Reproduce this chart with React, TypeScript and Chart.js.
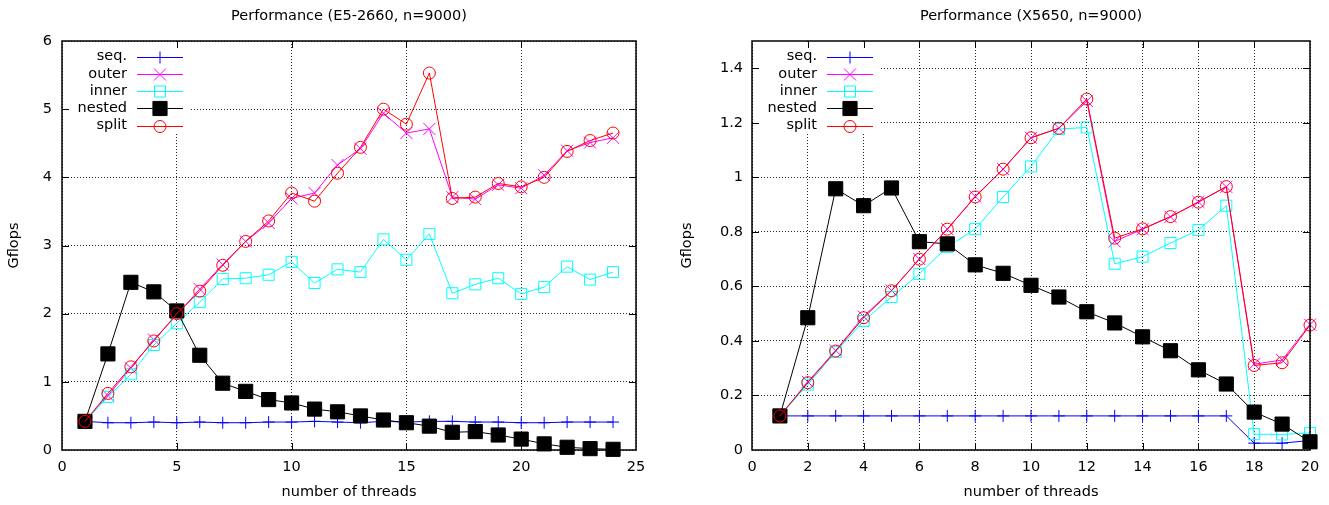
import React, { useEffect, useRef } from 'react';
import { Chart, registerables } from 'chart.js';

Chart.register(...registerables);

// ---------- data ----------
const seriesNames = ['seq.', 'outer', 'inner', 'nested', 'split'];

const threadsE5 = [1, 2, 3, 4, 5, 6, 7, 8, 9, 10, 11, 12, 13, 14, 15, 16, 17, 18, 19, 20, 21, 22, 23, 24];
const seqE5 = [0.42, 0.40, 0.40, 0.41, 0.40, 0.41, 0.40, 0.40, 0.41, 0.41, 0.42, 0.41, 0.40, 0.42, 0.41, 0.42, 0.42, 0.41, 0.41, 0.40, 0.40, 0.41, 0.41, 0.41];
const outerE5 = [0.42, 0.80, 1.20, 1.62, 1.98, 2.36, 2.72, 3.06, 3.33, 3.69, 3.77, 4.18, 4.42, 4.94, 4.65, 4.71, 3.71, 3.68, 3.89, 3.84, 4.03, 4.39, 4.51, 4.58];
const innerE5 = [0.42, 0.78, 1.11, 1.54, 1.86, 2.17, 2.51, 2.52, 2.57, 2.76, 2.45, 2.65, 2.61, 3.09, 2.79, 3.17, 2.30, 2.43, 2.52, 2.29, 2.39, 2.69, 2.50, 2.61];
const nestedE5 = [0.42, 1.41, 2.46, 2.32, 2.04, 1.39, 0.98, 0.86, 0.74, 0.69, 0.60, 0.56, 0.50, 0.44, 0.40, 0.35, 0.26, 0.27, 0.22, 0.16, 0.09, 0.04, 0.02, 0.01];
const splitE5 = [0.42, 0.83, 1.22, 1.60, 2.00, 2.33, 2.71, 3.06, 3.36, 3.77, 3.65, 4.06, 4.44, 5.00, 4.78, 5.53, 3.69, 3.71, 3.91, 3.86, 4.00, 4.38, 4.54, 4.65];

const threadsX5 = [1, 2, 3, 4, 5, 6, 7, 8, 9, 10, 11, 12, 13, 14, 15, 16, 17, 18, 19, 20];
const seqX5 = [0.125, 0.125, 0.125, 0.125, 0.125, 0.125, 0.125, 0.125, 0.125, 0.125, 0.125, 0.125, 0.125, 0.125, 0.125, 0.125, 0.125, 0.025, 0.025, 0.035];
const outerX5 = [0.125, 0.25, 0.365, 0.49, 0.585, 0.70, 0.81, 0.93, 1.03, 1.145, 1.18, 1.28, 0.765, 0.81, 0.855, 0.91, 0.965, 0.315, 0.33, 0.46];
const innerX5 = [0.125, 0.24, 0.36, 0.473, 0.561, 0.646, 0.745, 0.81, 0.928, 1.04, 1.177, 1.183, 0.683, 0.709, 0.759, 0.807, 0.896, 0.058, 0.057, 0.063];
const nestedX5 = [0.125, 0.485, 0.958, 0.896, 0.961, 0.764, 0.756, 0.679, 0.648, 0.604, 0.561, 0.507, 0.466, 0.415, 0.364, 0.294, 0.242, 0.139, 0.095, 0.030];
const splitX5 = [0.125, 0.247, 0.363, 0.485, 0.584, 0.70, 0.81, 0.928, 1.03, 1.145, 1.18, 1.287, 0.777, 0.811, 0.856, 0.909, 0.966, 0.31, 0.32, 0.458];

const titleE5 = 'Performance (E5-2660, n=9000)';
const titleX5 = 'Performance (X5650, n=9000)';
const xTitle = 'number of threads';
const yTitle = 'Gflops';

// ---------- styles ----------
const FONT = 'DejaVu Sans';
const FS = 14.5;
const styles = [
  { color: '#0000ff', point: 'cross', radius: 6, fill: false },
  { color: '#ff00ff', point: 'crossRot', radius: 8.5, fill: false },
  { color: '#00ffff', point: 'rect', radius: 7.8, fill: false },
  { color: '#000000', point: 'rect', radius: 10, fill: true },
  { color: '#ff0000', point: 'circle', radius: 6, fill: false },
];

function drawMarker(ctx: CanvasRenderingContext2D, style: any, x: number, y: number) {
  const r = style.radius;
  ctx.save();
  ctx.strokeStyle = style.color;
  ctx.fillStyle = style.color;
  ctx.lineWidth = 1;
  ctx.beginPath();
  if (style.point === 'cross') {
    ctx.moveTo(x - r, y); ctx.lineTo(x + r, y);
    ctx.moveTo(x, y - r); ctx.lineTo(x, y + r);
    ctx.stroke();
  } else if (style.point === 'crossRot') {
    const o = r * Math.SQRT1_2;
    ctx.moveTo(x - o, y - o); ctx.lineTo(x + o, y + o);
    ctx.moveTo(x - o, y + o); ctx.lineTo(x + o, y - o);
    ctx.stroke();
  } else if (style.point === 'rect') {
    const s = r * Math.SQRT1_2;
    ctx.rect(x - s, y - s, 2 * s, 2 * s);
    if (style.fill) ctx.fill();
    ctx.stroke();
  } else {
    ctx.arc(x, y, r, 0, Math.PI * 2);
    ctx.stroke();
  }
  ctx.restore();
}

function makePlugin(title: string) {
  const legendW = 128;
  const legendH = 92;
  return {
    id: 'gnuplotDecor',
    beforeDatasetsDraw(chart: any) {
      const { ctx, chartArea: a } = chart;
      ctx.save();
      ctx.fillStyle = '#ffffff';
      ctx.fillRect(a.left + 1, a.top + 1, legendW, legendH);
      ctx.restore();
    },
    afterDatasetsDraw(chart: any) {
      const { ctx, chartArea: a } = chart;
      ctx.save();
      // ticks inward on all sides
      ctx.strokeStyle = '#000';
      ctx.lineWidth = 1;
      const tl = 7;
      const xs = chart.scales.x;
      const ys = chart.scales.y;
      ctx.beginPath();
      xs.ticks.forEach((t: any) => {
        const px = Math.round(xs.getPixelForValue(t.value)) + 0.5;
        if (px <= a.left + 1 || px >= a.right - 1) return;
        ctx.moveTo(px, a.bottom); ctx.lineTo(px, a.bottom - tl);
        ctx.moveTo(px, a.top); ctx.lineTo(px, a.top + tl);
      });
      ys.ticks.forEach((t: any) => {
        const py = Math.round(ys.getPixelForValue(t.value)) + 0.5;
        if (py <= a.top + 1 || py >= a.bottom - 1) return;
        ctx.moveTo(a.left, py); ctx.lineTo(a.left + tl, py);
        ctx.moveTo(a.right, py); ctx.lineTo(a.right - tl, py);
      });
      ctx.stroke();
      // border
      ctx.lineWidth = 1.5;
      ctx.strokeRect(a.left, a.top, a.right - a.left, a.bottom - a.top);
      // legend
      ctx.font = `${FS}px "${FONT}"`;
      ctx.textAlign = 'right';
      ctx.textBaseline = 'middle';
      ctx.fillStyle = '#000';
      for (let i = 0; i < seriesNames.length; i++) {
        const y = a.top + 15.5 + i * 17.3;
        ctx.fillText(seriesNames[i], a.left + 65, y);
        const st = styles[i];
        ctx.strokeStyle = st.color;
        ctx.lineWidth = 1;
        ctx.beginPath();
        ctx.moveTo(a.left + 75, Math.round(y) + 0.5);
        ctx.lineTo(a.left + 121, Math.round(y) + 0.5);
        ctx.stroke();
        drawMarker(ctx, st, a.left + 98, Math.round(y) + 0.5);
      }
      // title
      ctx.textAlign = 'center';
      ctx.fillStyle = '#000';
      ctx.fillText(title, (a.left + a.right) / 2, 16);
      ctx.restore();
    },
  };
}

function buildDatasets(threads: number[], series: number[][]) {
  return series.map((vals, i) => {
    const st = styles[i];
    return {
      label: seriesNames[i],
      data: threads.map((t, j) => ({ x: t, y: vals[j] })),
      borderColor: st.color,
      backgroundColor: st.fill ? st.color : 'rgba(0,0,0,0)',
      pointBorderColor: st.color,
      pointBackgroundColor: st.fill ? st.color : 'rgba(0,0,0,0)',
      pointStyle: st.point,
      pointRadius: st.radius,
      pointBorderWidth: 1,
      borderWidth: 1,
      tension: 0,
      fill: false,
      clip: false,
      order: 5 - i,
    };
  });
}

type PanelProps = {
  title: string;
  threads: number[];
  series: number[][];
  xMax: number;
  xStep: number;
  yMax: number;
  yStep: number;
  padLeft: number;
  padRight: number;
  yWidth: number;
  yTickPad: number;
  width: number;
  left: number;
};

function Panel(p: PanelProps) {
  const ref = useRef<HTMLCanvasElement>(null);
  useEffect(() => {
    if (!ref.current) return;
    const grid = { color: 'rgba(0,0,0,0.85)', lineWidth: 1, drawTicks: false };
    const border = { display: false, dash: [1, 2] };
    const chart = new Chart(ref.current, {
      type: 'line',
      data: { datasets: buildDatasets(p.threads, p.series) as any },
      options: {
        responsive: false,
        animation: false,
        layout: { padding: { top: 41, right: p.padRight, left: p.padLeft, bottom: 0 } },
        plugins: { legend: { display: false }, tooltip: { enabled: false }, title: { display: false } },
        scales: {
          x: {
            type: 'linear',
            min: 0,
            max: p.xMax,
            grid,
            border,
            afterFit: (s: any) => { s.height = 55; },
            ticks: { stepSize: p.xStep, padding: 9, color: '#000', font: { family: FONT, size: FS }, maxRotation: 0 },
            title: { display: true, text: xTitle, color: '#000', font: { family: FONT, size: FS }, padding: { top: 0, bottom: 4 } },
          },
          y: {
            type: 'linear',
            min: 0,
            max: p.yMax,
            grid,
            border,
            afterFit: (s: any) => { s.width = p.yWidth; },
            ticks: {
              stepSize: p.yStep,
              includeBounds: false,
              padding: p.yTickPad,
              color: '#000',
              font: { family: FONT, size: FS },
              callback: (v: any) => String(Math.round(Number(v) * 10) / 10),
            },
            title: { display: true, text: yTitle, color: '#000', font: { family: FONT, size: FS }, padding: { top: 6, bottom: 0 } },
          },
        },
      },
      plugins: [makePlugin(p.title)],
    } as any);
    return () => chart.destroy();
  }, []);
  return (
    <canvas
      ref={ref}
      width={p.width}
      height={505}
      style={{ position: 'absolute', left: p.left, top: 0, width: p.width, height: 505 }}
    />
  );
}

export default function App() {
  return (
    <div style={{ position: 'fixed', left: 0, top: 0, width: 1329, height: 505, background: '#fff' }}>
      <Panel
        title={titleE5}
        threads={threadsE5}
        series={[seqE5, outerE5, innerE5, nestedE5, splitE5]}
        xMax={25}
        xStep={5}
        yMax={6}
        yStep={1}
        padLeft={0}
        padRight={28}
        yWidth={62}
        yTickPad={10}
        width={664}
        left={0}
      />
      <Panel
        title={titleX5}
        threads={threadsX5}
        series={[seqX5, outerX5, innerX5, nestedX5, splitX5]}
        xMax={20}
        xStep={2}
        yMax={1.5}
        yStep={0.2}
        padLeft={9}
        padRight={19}
        yWidth={79}
        yTickPad={9}
        width={665}
        left={664}
      />
    </div>
  );
}
